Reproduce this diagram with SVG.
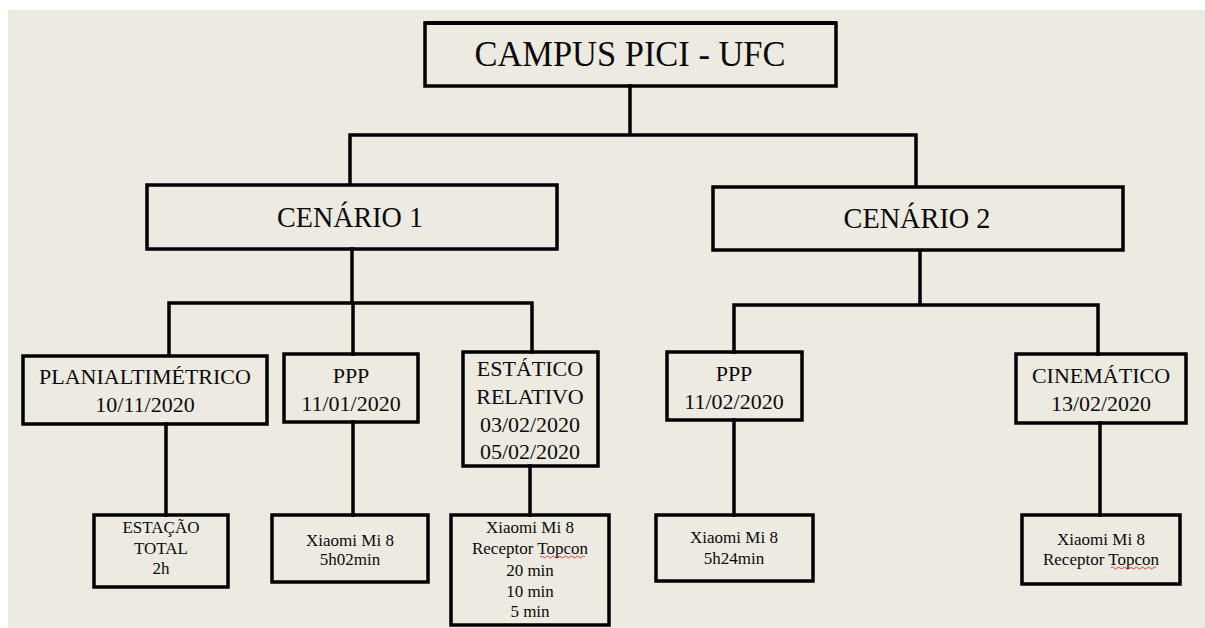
<svg xmlns="http://www.w3.org/2000/svg" width="1205" height="628" viewBox="0 0 1205 628">
<style>
.box{fill:none;stroke:#000;stroke-width:3.5}
.ln{fill:none;stroke:#000;stroke-width:3.5;stroke-linecap:square}
text{font-family:"Liberation Serif","Times New Roman",serif;fill:#0a0a0a;text-anchor:middle}
.t1{font-size:35px}
.t2{font-size:29px}
.t3{font-size:22px}
.t4{font-size:17px}
</style>
<rect x="0" y="0" width="1205" height="628" fill="#ffffff"/>
<rect x="8" y="10" width="1197" height="618" fill="#edeae2"/>
<g id="connectors">
<path class="ln" d="M630 86 V135 M350 135 H916 M350 135 V184 M916 135 V186"/>
<path class="ln" d="M352 249 V303 M169 303 H532 M169 303 V355 M353 303 V354 M532 303 V352"/>
<path class="ln" d="M920 251 V305 M734 305 H1098 M734 305 V352 M1098 305 V354"/>
<path class="ln" d="M166 424 V515 M353 422 V515 M530 466 V515 M734 420 V515 M1100 423 V515"/>
</g>
<g id="campus">
<rect class="box" x="425" y="23" width="411" height="63"/>
<rect x="425" y="21" width="411" height="4" fill="#000"/>
<text class="t1" x="630" y="66" textLength="311" lengthAdjust="spacingAndGlyphs">CAMPUS PICI - UFC</text>
</g>
<g id="cenario1">
<rect class="box" x="147" y="185" width="410" height="64"/>
<text class="t2" x="350" y="227" textLength="146" lengthAdjust="spacingAndGlyphs">CENÁRIO 1</text>
</g>
<g id="cenario2">
<rect class="box" x="713" y="187" width="410" height="63"/>
<text class="t2" x="917" y="228" textLength="147" lengthAdjust="spacingAndGlyphs">CENÁRIO 2</text>
</g>
<g id="planialt">
<rect class="box" x="23" y="356" width="244" height="68"/>
<text class="t3" x="145" y="384">PLANIALTIMÉTRICO</text>
<text class="t3" x="145" y="412">10/11/2020</text>
</g>
<g id="ppp1">
<rect class="box" x="284" y="354" width="134" height="68"/>
<text class="t3" x="351" y="383">PPP</text>
<text class="t3" x="351" y="411">11/01/2020</text>
</g>
<g id="estatico">
<rect class="box" x="463" y="352" width="135" height="114"/>
<text class="t3" x="530" y="376">ESTÁTICO</text>
<text class="t3" x="530" y="404">RELATIVO</text>
<text class="t3" x="530" y="432">03/02/2020</text>
<text class="t3" x="530" y="459">05/02/2020</text>
</g>
<g id="ppp2">
<rect class="box" x="667" y="352" width="135" height="68"/>
<text class="t3" x="734" y="381">PPP</text>
<text class="t3" x="734" y="409">11/02/2020</text>
</g>
<g id="cinematico">
<rect class="box" x="1016" y="354" width="170" height="69"/>
<text class="t3" x="1101" y="383">CINEMÁTICO</text>
<text class="t3" x="1101" y="411">13/02/2020</text>
</g>
<g id="estacao">
<rect class="box" x="94" y="515" width="134" height="72"/>
<text class="t4" x="161" y="533">ESTAÇÃO</text>
<text class="t4" x="161" y="554">TOTAL</text>
<text class="t4" x="161" y="574">2h</text>
</g>
<g id="xiaomi1">
<rect class="box" x="272" y="515" width="156" height="67"/>
<text class="t4" x="350" y="546">Xiaomi Mi 8</text>
<text class="t4" x="350" y="565">5h02min</text>
</g>
<g id="xiaomi2">
<rect class="box" x="451" y="515" width="158" height="110"/>
<text class="t4" x="530" y="533">Xiaomi Mi 8</text>
<text class="t4" x="530" y="554">Receptor Topcon</text>
<path d="M540 557 q1.5 -2 3 0 t3 0 t3 0 t3 0 t3 0 t3 0 t3 0 t3 0 t3 0 t3 0 t3 0 t3 0 t3 0 t3 0 t3 0" fill="none" stroke="#e02020" stroke-width="0.8"/>
<text class="t4" x="530" y="576">20 min</text>
<text class="t4" x="530" y="597">10 min</text>
<text class="t4" x="530" y="617">5 min</text>
</g>
<g id="xiaomi3">
<rect class="box" x="656" y="515" width="157" height="66"/>
<text class="t4" x="734" y="543">Xiaomi Mi 8</text>
<text class="t4" x="734" y="564">5h24min</text>
</g>
<g id="xiaomi4">
<rect class="box" x="1022" y="515" width="158" height="69"/>
<text class="t4" x="1101" y="545">Xiaomi Mi 8</text>
<text class="t4" x="1101" y="565">Receptor Topcon</text>
<path d="M1111 568 q1.5 -2 3 0 t3 0 t3 0 t3 0 t3 0 t3 0 t3 0 t3 0 t3 0 t3 0 t3 0 t3 0 t3 0 t3 0 t3 0" fill="none" stroke="#e02020" stroke-width="0.8"/>
</g>
</svg>
